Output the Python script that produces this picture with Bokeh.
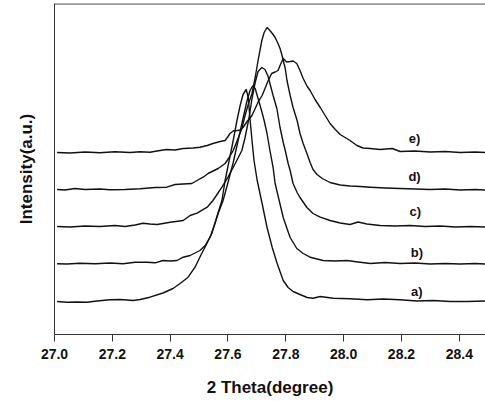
from bokeh.plotting import figure
from bokeh.models import Range1d, FixedTicker, Span, ColumnDataSource
from bokeh.core.properties import value
from bokeh.embed import file_html
from bokeh.resources import INLINE

# ---- data (2 theta in degrees, intensity in arbitrary units incl. stacking offset) ----
theta_a = [27.009, 27.043, 27.078, 27.112, 27.147, 27.192, 27.227, 27.272, 27.296, 27.330,
           27.375, 27.410, 27.440, 27.462, 27.486, 27.509, 27.527, 27.544, 27.561, 27.579,
           27.590, 27.604, 27.618, 27.631, 27.642, 27.652, 27.663, 27.670, 27.676, 27.683,
           27.690, 27.701, 27.718, 27.735, 27.753, 27.770, 27.791, 27.808, 27.825, 27.849,
           27.874, 27.894, 27.919, 27.964, 28.022, 28.081, 28.137, 28.195, 28.254, 28.310,
           28.368, 28.427, 28.490]
inten_a = [33, 32.3, 32.5, 32.3, 33.5, 34.7, 35, 34, 35, 37.3,
           41.5, 46, 52.3, 57.3, 67.3, 81, 91, 101, 117.3, 134,
           154, 174, 194, 214, 229, 240, 245, 237, 216, 194,
           174, 154, 131, 107, 87, 71, 54, 47, 43, 40,
           37, 36.3, 38, 36.3, 35.7, 34.7, 35.5, 34.7, 33.5, 34,
           33, 33, 33.5]

theta_b = [27.009, 27.043, 27.088, 27.140, 27.192, 27.237, 27.279, 27.320, 27.348, 27.375,
           27.400, 27.424, 27.445, 27.469, 27.503, 27.521, 27.538, 27.555, 27.566, 27.583,
           27.600, 27.618, 27.635, 27.652, 27.666, 27.676, 27.685, 27.694, 27.704, 27.714,
           27.725, 27.735, 27.745, 27.756, 27.763, 27.777, 27.791, 27.804, 27.815, 27.838,
           27.860, 27.884, 27.929, 27.971, 28.011, 28.050, 28.092, 28.144, 28.195, 28.247,
           28.299, 28.351, 28.403, 28.455, 28.490]
inten_b = [70.7, 70.5, 71.3, 70.7, 71.5, 70.7, 72.3, 72.3, 71.7, 74,
           73.5, 74, 77.3, 79, 84, 89, 97.3, 111, 121, 134,
           152, 172, 194, 216, 234, 244, 248.5, 246, 236, 226,
           214, 201, 184, 167, 151, 134, 117, 106, 97, 86,
           81, 77.3, 74, 73.5, 74, 72.5, 71, 72, 71, 71.5,
           70.5, 71, 70.5, 71, 70.5]

theta_c = [27.009, 27.054, 27.106, 27.157, 27.209, 27.244, 27.279, 27.306, 27.330, 27.355,
           27.400, 27.445, 27.469, 27.493, 27.528, 27.548, 27.562, 27.579, 27.600, 27.625,
           27.648, 27.659, 27.673, 27.683, 27.694, 27.704, 27.717, 27.728, 27.739, 27.745,
           27.756, 27.769, 27.780, 27.791, 27.798, 27.808, 27.815, 27.825, 27.839, 27.849,
           27.873, 27.894, 27.919, 27.953, 27.988, 28.022, 28.050, 28.080, 28.126, 28.178,
           28.230, 28.282, 28.334, 28.386, 28.438, 28.490]
inten_c = [108, 107.5, 108.5, 108, 109, 108, 109.5, 111.3, 110.5, 110,
           112.3, 114, 119, 121.3, 127.3, 134, 140, 147.3, 157.3, 171,
           184, 197, 217, 236, 252, 263, 267, 265, 258, 251,
           239, 226, 207, 192, 184, 171, 164, 151, 142, 137,
           127, 121, 117.3, 114, 111.5, 110, 112.5, 110.5, 109, 108.5,
           109, 108, 108.5, 107.5, 108, 107.5]

theta_d = [27.009, 27.036, 27.071, 27.106, 27.157, 27.192, 27.244, 27.296, 27.348, 27.388,
           27.417, 27.445, 27.475, 27.493, 27.514, 27.531, 27.545, 27.566, 27.590, 27.604,
           27.618, 27.632, 27.648, 27.659, 27.670, 27.683, 27.694, 27.704, 27.717, 27.725,
           27.735, 27.745, 27.756, 27.763, 27.773, 27.780, 27.787, 27.798, 27.804, 27.815,
           27.825, 27.839, 27.849, 27.860, 27.873, 27.884, 27.894, 27.908, 27.926, 27.953,
           27.988, 28.022, 28.057, 28.092, 28.144, 28.195, 28.247, 28.299, 28.351, 28.403,
           28.455, 28.490]
inten_d = [145, 144.5, 146, 145, 145.5, 144.7, 145, 145.7, 147, 147.3,
           150, 150.5, 151, 154, 157.3, 161, 163, 166, 171, 177,
           184, 194, 206, 219, 230, 241, 257, 274, 294, 302,
           307, 304, 300, 297, 291, 286, 279, 266, 254, 239,
           227, 214, 201, 191, 181, 172, 165, 160, 156, 152,
           149.5, 148.5, 148, 147.3, 146.5, 146, 145.5, 145, 145.5, 144.5,
           145, 144.5]

theta_e = [27.009, 27.054, 27.106, 27.157, 27.209, 27.261, 27.296, 27.330, 27.365, 27.388,
           27.417, 27.445, 27.479, 27.503, 27.528, 27.548, 27.573, 27.590, 27.600, 27.607,
           27.618, 27.632, 27.642, 27.652, 27.666, 27.683, 27.694, 27.704, 27.718, 27.728,
           27.739, 27.751, 27.763, 27.773, 27.780, 27.791, 27.803, 27.815, 27.825, 27.838,
           27.849, 27.860, 27.874, 27.884, 27.901, 27.919, 27.936, 27.953, 27.971, 27.988,
           28.005, 28.022, 28.046, 28.067, 28.092, 28.126, 28.168, 28.195, 28.247, 28.299,
           28.351, 28.403, 28.455, 28.490]
inten_e = [182, 181.5, 182.5, 181.7, 182.7, 182, 182.7, 182.3, 184, 185,
           184.5, 186, 186.5, 187.3, 189, 191, 193, 194, 198, 201,
           203.5, 204, 204.5, 207, 213, 219, 226, 232.3, 239, 246,
           254, 261, 262.5, 264, 269, 276, 272.5, 273, 273.5, 271,
           264, 256, 248, 244, 235, 227, 219, 211, 205, 200,
           197, 194, 189, 186.5, 186, 185, 186, 183, 183.5, 182.5,
           183, 182, 182.5, 182]

curve_labels = ["a)", "b)", "c)", "d)", "e)"]
label_theta = [28.253, 28.253, 28.248, 28.245, 28.245]
label_inten = [43.3, 82, 123, 158.3, 196.3]

tick_values = [27.0, 27.2, 27.4, 27.6, 27.8, 28.0, 28.2, 28.4]
tick_labels = ["27.0", "27.2", "27.4", "27.6", "27.8", "28.0", "28.2", "28.4"]

# ---- figure ----
FONT = "Liberation Sans"
p = figure(width=485, height=401, output_backend="svg", toolbar_location=None,
           x_range=Range1d(27.0, 28.4905), y_range=Range1d(0, 331),
           min_border_left=54, min_border_right=0, min_border_top=3, min_border_bottom=67)
p.outline_line_color = None
p.xgrid.visible = False
p.ygrid.visible = False
p.background_fill_color = "white"
p.border_fill_color = "white"

line_color = "#111111"
for xs, ys in [(theta_a, inten_a), (theta_b, inten_b), (theta_c, inten_c),
               (theta_d, inten_d), (theta_e, inten_e)]:
    p.line(xs, ys, line_color=line_color, line_width=1.4, line_join="round")

src = ColumnDataSource(dict(x=label_theta, y=label_inten, t=curve_labels))
p.text(x="x", y="y", text="t", source=src, text_font=value(FONT), text_font_style="bold",
       text_font_size="13px", text_align="center", text_baseline="middle", text_color="#111111")

# top frame line
p.add_layout(Span(location=330.6, dimension="width", line_color="#333333", line_width=1.2))

xa = p.xaxis[0]
xa.ticker = FixedTicker(ticks=tick_values)
xa.major_label_overrides = {v: s for v, s in zip(tick_values, tick_labels)}
xa.minor_tick_line_color = None
xa.major_tick_in = 0
xa.major_tick_out = 7
xa.major_label_standoff = 7
xa.major_label_text_font = FONT
xa.major_label_text_font_style = "bold"
xa.major_label_text_font_size = "14px"
xa.major_label_text_color = "#111111"
xa.axis_label = "2 Theta(degree)"
xa.axis_label_text_font = FONT
xa.axis_label_text_font_style = "bold"
xa.axis_label_text_font_size = "17px"
xa.axis_label_text_color = "#111111"
xa.axis_label_standoff = 16
xa.axis_line_color = "#333333"
xa.major_tick_line_color = "#333333"

ya = p.yaxis[0]
ya.ticker = FixedTicker(ticks=[])
ya.minor_tick_line_color = None
ya.major_tick_line_color = None
ya.major_tick_out = 0
ya.major_tick_in = 0
ya.major_label_text_font_size = "0px"
ya.axis_label = "Intensity(a.u.)"
ya.axis_label_text_font = FONT
ya.axis_label_text_font_style = "bold"
ya.axis_label_text_font_size = "17px"
ya.axis_label_text_color = "#111111"
ya.axis_label_standoff = 19
ya.axis_line_color = "#333333"

open("out.html", "w").write(file_html(p, INLINE))
